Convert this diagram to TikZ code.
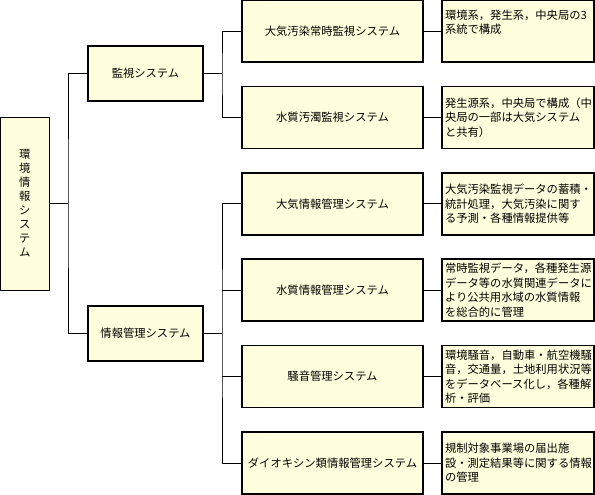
\documentclass[tikz,border=0pt]{standalone}
\usepackage{fontspec}
\setmainfont{Noto Sans CJK JP}
\usetikzlibrary{positioning}
\definecolor{box_fill}{RGB}{255,255,221}

\begin{document}
\begin{tikzpicture}[x=1pt, y=-1pt,
                    sysbox/.style={draw, fill=box_fill, line width=1.5pt, inner sep=0pt, outer sep=0pt,
                                   font=\fontsize{11.3}{14.5}\selectfont},
                    toplevel/.style={sysbox, minimum width=115pt, minimum height=55pt},
                    subsystem/.style={sysbox, minimum width=181pt, minimum height=62pt},
                    note/.style={sysbox, minimum width=152pt, minimum height=62pt, text width=146pt, align=left},
                    link/.style={line width=0.8pt}]
  \useasboundingbox (0,0) rectangle (595,495);

  % Define boxes
  \node[sysbox, line width=0.8pt, minimum width=48.5pt, minimum height=173pt, align=center,
        font=\fontsize{11.3}{14}\selectfont] (env) at (24.75,203.5) {環\\境\\情\\報\\シ\\ス\\テ\\ム};
  \node[toplevel] (watch) at (145.5,73.5) {監視システム};
  \node[toplevel] (manage) at (145.5,333.5) {情報管理システム};

  \node[subsystem] (air) at (332.5,31) {大気汚染常時監視システム};
  \node[subsystem] (water) [below=24.4pt of air] {水質汚濁監視システム};
  \node[subsystem] (air_info) [below=24.4pt of water] {大気情報管理システム};
  \node[subsystem] (water_info) [below=24.4pt of air_info] {水質情報管理システム};
  \node[subsystem] (noise) [below=24.4pt of water_info] {騒音管理システム};
  \node[subsystem] (dioxin) [below=24.4pt of noise] {ダイオキシン類情報管理システム};

  \node[note, text depth=33pt] (air_note) [right=19pt of air] {環境系，発生系，中央局の3\\系統で構成};
  \node[note] (water_note) [right=19pt of water] {発生源系，中央局で構成（中\\央局の一部は大気システム\\と共有）};
  \node[note] (air_info_note) [right=19pt of air_info] {大気汚染監視データの蓄積・\\統計処理，大気汚染に関す\\る予測・各種情報提供等};
  \node[note] (water_info_note) [right=19pt of water_info] {常時監視データ，各種発生源\\データ等の水質関連データに\\より公共用水域の水質情報\\を総合的に管理};
  \node[note] (noise_note) [right=19pt of noise] {環境騒音，自動車・航空機騒\\音，交通量，土地利用状況等\\をデータベース化し，各種解\\析・評価};
  \node[note] (dioxin_note) [right=19pt of dioxin] {規制対象事業場の届出施\\設・測定結果等に関する情報\\の管理};

  % Connections
  \coordinate (root_fork) at (68,203.5);
  \coordinate (watch_fork) at (222,73.5);
  \coordinate (manage_fork) at (222,333.5);

  \draw[link] (env.east) -- (root_fork);
  \draw[link] (watch.west) -| (root_fork) |- (manage.west);

  \draw[link] (watch.east) -- (watch_fork);
  \draw[link] (air.west) -| (watch_fork) |- (water.west);

  \draw[link] (manage.east) -- (manage_fork);
  \draw[link] (air_info.west) -| (manage_fork) |- (dioxin.west);
  \draw[link] (water_info.west) -- (water_info.west -| manage_fork);
  \draw[link] (noise.west) -- (noise.west -| manage_fork);

  \draw[link] (air) -- (air_note);
  \draw[link] (water) -- (water_note);
  \draw[link] (air_info) -- (air_info_note);
  \draw[link] (water_info) -- (water_info_note);
  \draw[link] (noise) -- (noise_note);
  \draw[link] (dioxin) -- (dioxin_note);

\end{tikzpicture}
\end{document}
